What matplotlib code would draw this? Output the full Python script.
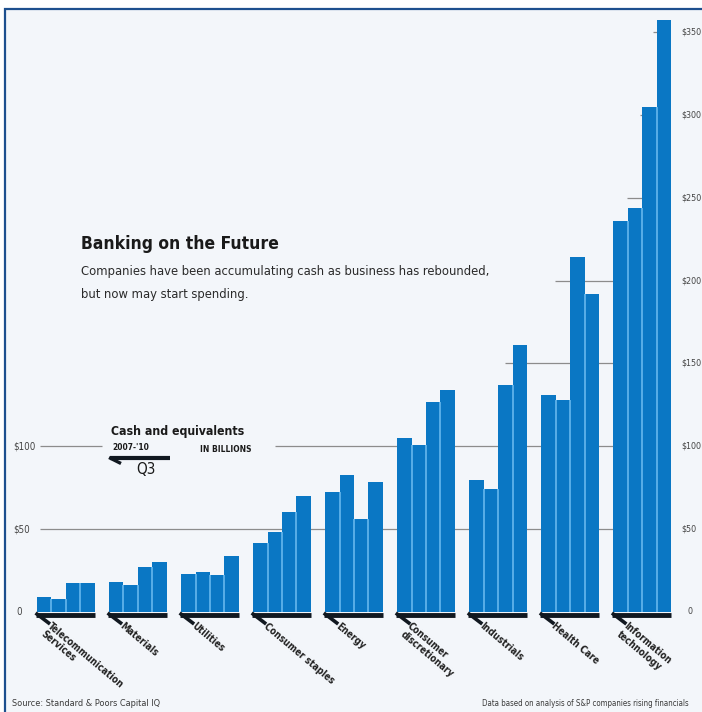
import numpy as np
import matplotlib.pyplot as plt
from matplotlib.patches import Rectangle
from matplotlib.lines import Line2D

plt.rcParams['font.family'] = ['DejaVu Sans']
plt.rcParams['font.stretch'] = 'condensed'

# Cash and equivalents, in billions of dollars
categories = ["Telecommunication\nServices", "Materials", "Utilities",
              "Consumer staples", "Energy", "Consumer\ndiscretionary",
              "Industrials", "Health Care", "Information\ntechnology"]
v2007 = [8.9, 18.3, 22.9, 41.4, 72.4, 105.0, 79.5, 131.0, 236.0]
v2008 = [7.8, 16.3, 24.1, 48.1, 82.7, 100.6, 74.5, 128.0, 244.0]
v2009 = [17.3, 27.0, 22.3, 60.5, 56.1, 127.0, 137.0, 214.4, 305.0]
v2010q3 = [17.7, 30.0, 34.0, 70.2, 78.5, 134.0, 161.0, 191.7, 357.0]

right_ticks = [0, 50, 100, 150, 200, 250, 300, 350]
left_ticks = [0, 50, 100]
right_labels = ["0", "$50", "$100", "$150", "$200", "$250", "$300", "$350"]
left_labels = ["0", "$50", "$100"]

W, H = 702, 712
BLUE = '#0a77c4'
SEP = '#5fb2ea'
INK = '#111820'
GRID = '#8c8c8c'


def fx(px):
    return px / W


def fy(py):
    return 1 - py / H


# pixel -> data helpers (axes spans x 37..671 px, y 612..12 px)
XS = 634 / 44.0
YS = 1.657


def dx(px):
    return (px - 37) / XS - 0.5


def dy(py):
    return (612 - py) / YS


fig = plt.figure(figsize=(W / 100, H / 100), dpi=100)
fig.patch.set_facecolor('white')
fig.add_artist(Rectangle((fx(5), fy(730)), fx(720) - fx(5), fy(9) - fy(730),
                         transform=fig.transFigure, facecolor='#f3f6fa',
                         edgecolor='#1d4f8e', lw=1.6, zorder=0))

ax = fig.add_axes([37 / W, 1 - 612 / H, 634 / W, 600 / H])
ax.set_xlim(-0.5, 43.5)
ax.set_ylim(0, 600 / YS)
ax.axis('off')
ax.patch.set_alpha(0)

vals = np.array([v2007, v2008, v2009, v2010q3]).T
xs = np.arange(len(categories))[:, None] * 5 + np.arange(4)[None, :]

# gridlines, only partly drawn as in the original
grid_start = {50: 40, 100: 40, 150: 505, 200: 555, 250: 627, 300: 640, 350: 653}
for y, s in grid_start.items():
    if y == 100:
        ax.hlines(y, dx(s), dx(102), color=GRID, lw=0.9, zorder=1)
        ax.hlines(y, dx(275), dx(679), color=GRID, lw=0.9, zorder=1)
    else:
        ax.hlines(y, dx(s), dx(679), color=GRID, lw=0.9, zorder=1)

# bars
ax.bar(xs.ravel(), vals.ravel(), width=1.0, color=BLUE, zorder=2)
for j in range(3):
    ax.vlines(xs[:, j] + 0.5, 0, np.minimum(vals[:, j], vals[:, j + 1]),
              color=SEP, lw=1.3, zorder=3)

# base lines with hooks and slanted labels
for g, name in enumerate(categories):
    left = g * 5 - 0.5
    ax.plot([left - 0.1, left + 4], [dy(614.5), dy(614.5)], color=INK, lw=3.5,
            solid_capstyle='butt', clip_on=False, zorder=4)
    ax.plot([left - 0.1, left + 13 / XS], [dy(613), dy(624)], color=INK, lw=2.6,
            solid_capstyle='butt', clip_on=False, zorder=4)
    ax.text(left + 15 / XS, dy(621), name, rotation=-40, rotation_mode='anchor',
            ha='left', va='top', fontsize=7, fontweight='bold', color='#222222',
            linespacing=1.1, clip_on=False)

# axis labels
for t, lab in zip(left_ticks, left_labels):
    fig.text(fx(13 if t else 16), fy(612 - t * YS), lab, ha='left', va='center',
             fontsize=7, color='#444444')
for t, lab in zip(right_ticks, right_labels):
    fig.text(fx(681 if t else 687), fy(612 - t * YS), lab, ha='left', va='center',
             fontsize=6.4, color='#444444')

# title block
fig.text(fx(81), fy(244), "Banking on the Future", fontsize=12.5, fontweight='bold',
         color='#1a1a1a', va='center')
fig.text(fx(81), fy(271), "Companies have been accumulating cash as business has rebounded,",
         fontsize=9.3, color='#2a2a2a', va='center')
fig.text(fx(81), fy(294), "but now may start spending.",
         fontsize=9.3, color='#2a2a2a', va='center')

# key
fig.text(fx(111), fy(432), "Cash and equivalents", fontsize=8.8, fontweight='bold',
         color='#1a1a1a', va='center')
fig.text(fx(112), fy(448), "2007-'10", fontsize=6, fontweight='bold',
         color='#1a1a1a', va='center')
fig.text(fx(200), fy(449), "IN BILLIONS", fontsize=6, fontweight='bold',
         color='#1a1a1a', va='center')
fig.text(fx(136), fy(469), "Q3", fontsize=11, color='#1a1a1a', va='center')
fig.add_artist(Line2D([fx(110), fx(170)], [fy(458), fy(458)], lw=3, color=INK,
                      solid_capstyle='butt'))
fig.add_artist(Line2D([fx(109), fx(121)], [fy(457.5), fy(463.5)], lw=2.4, color=INK,
                      solid_capstyle='butt'))

# footer
fig.text(fx(12), fy(704), "Source: Standard & Poors Capital IQ", fontsize=6.6,
         color='#3a3a3a', va='center')
fig.text(fx(482), fy(704), "Data based on analysis of S&P companies rising financials",
         fontsize=5.7, color='#3a3a3a', va='center')

fig.savefig('out.png', dpi=100)
